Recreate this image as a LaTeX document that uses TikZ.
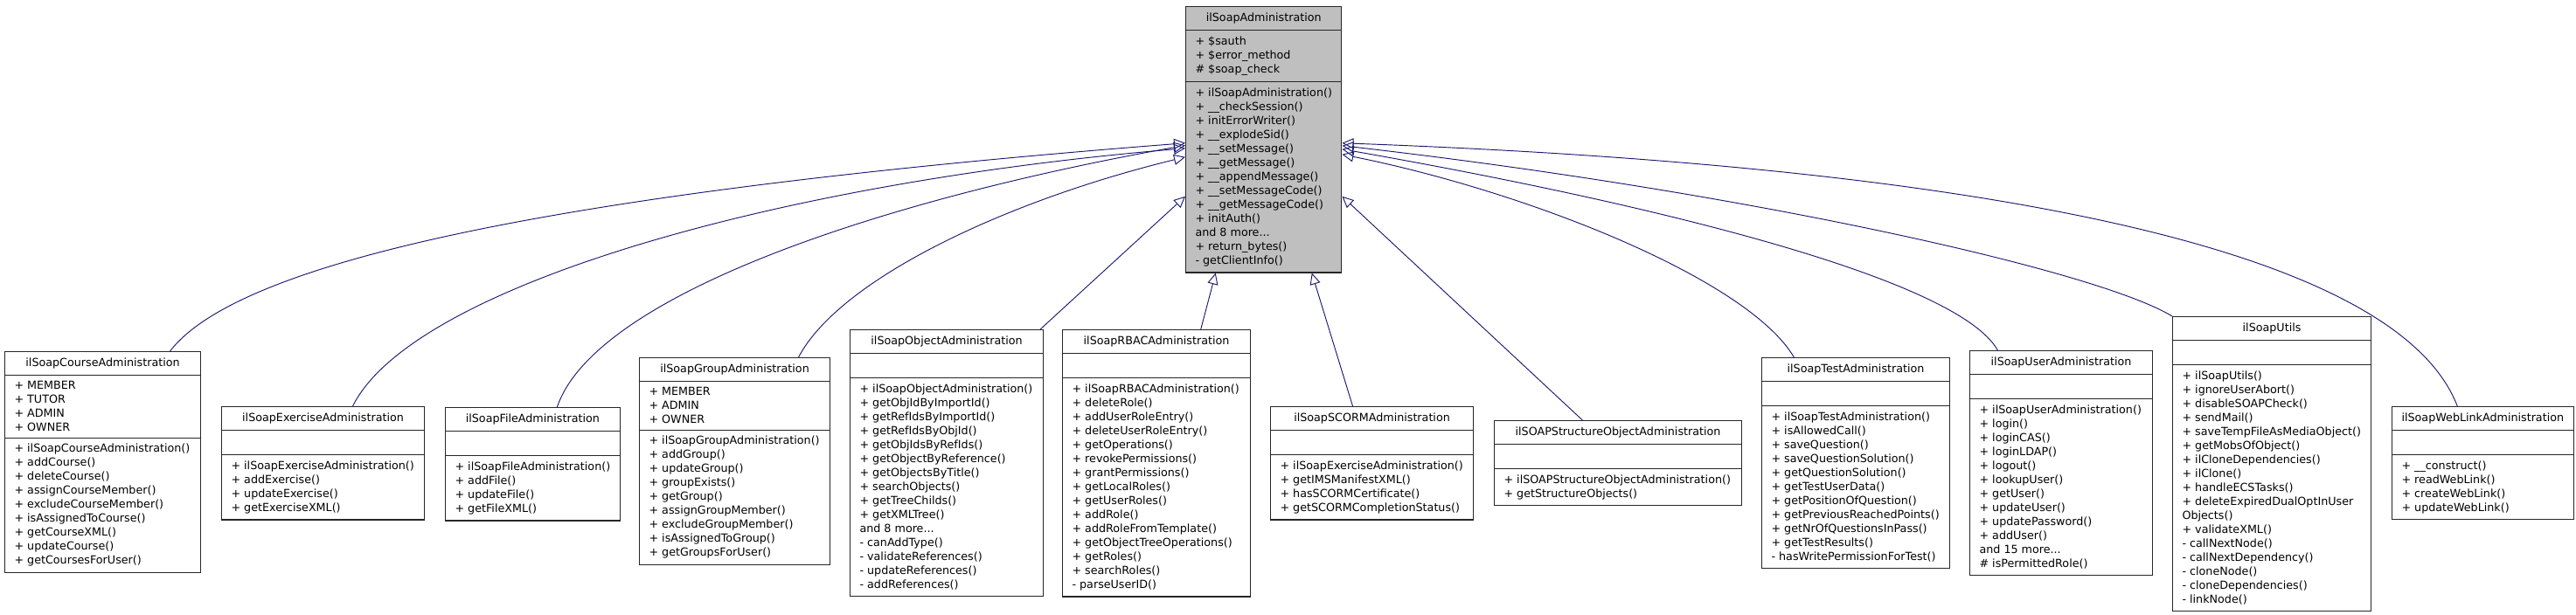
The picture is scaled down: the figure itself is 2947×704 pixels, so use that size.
\documentclass[tikz,border=0pt]{standalone}
\usepackage{fontspec}
\setmainfont{DejaVu Sans}
\usetikzlibrary{shapes.multipart,arrows.meta}
\definecolor{edgeBlue}{HTML}{191970}
\definecolor{baseGray}{HTML}{BFBFBF}

\begin{document}
\begin{tikzpicture}[x=0.03cm,y=-0.03cm,
  classBox/.style={rectangle split, rectangle split parts=3, draw=black!85, line width=0.9pt,
    anchor=north west, align=left, rectangle split part align={center,left,left},
    inner xsep=0.33cm, inner ysep=0.2cm, rectangle split empty part height=0.41cm,
    font=\fontsize{10.85}{13.66}\selectfont, fill=white},
  baseBox/.style={classBox, fill=baseGray},
  inherits/.style={draw=edgeBlue, line width=0.8pt, -{Triangle[open,length=0.39cm,width=0.36cm]}}]

\useasboundingbox (0,0) rectangle (2947,704);

\node[baseBox, minimum width=5.34cm] (soapAdmin) at (1356,7) {ilSoapAdministration
  \nodepart{two} + \$sauth\\ + \$error\_method\\ \# \$soap\_check
  \nodepart{three} + ilSoapAdministration()\\ + \_\_checkSession()\\ + initErrorWriter()\\
    + \_\_explodeSid()\\ + \_\_setMessage()\\ + \_\_getMessage()\\ + \_\_appendMessage()\\
    + \_\_setMessageCode()\\ + \_\_getMessageCode()\\ + initAuth()\\ and 8 more...\\
    + return\_bytes()\\ - getClientInfo()};

\node[classBox, minimum width=6.72cm] (course) at (5,402) {ilSoapCourseAdministration
  \nodepart{two} + MEMBER\\ + TUTOR\\ + ADMIN\\ + OWNER
  \nodepart{three} + ilSoapCourseAdministration()\\ + addCourse()\\ + deleteCourse()\\
    + assignCourseMember()\\ + excludeCourseMember()\\ + isAssignedToCourse()\\
    + getCourseXML()\\ + updateCourse()\\ + getCoursesForUser()};

\node[classBox, minimum width=6.96cm] (exercise) at (253,465) {ilSoapExerciseAdministration
  \nodepart{two}
  \nodepart{three} + ilSoapExerciseAdministration()\\ + addExercise()\\ + updateExercise()\\
    + getExerciseXML()};

\node[classBox, minimum width=5.94cm] (file) at (509,466) {ilSoapFileAdministration
  \nodepart{two}
  \nodepart{three} + ilSoapFileAdministration()\\ + addFile()\\ + updateFile()\\ + getFileXML()};

\node[classBox, minimum width=6.54cm] (group) at (731,409) {ilSoapGroupAdministration
  \nodepart{two} + MEMBER\\ + ADMIN\\ + OWNER
  \nodepart{three} + ilSoapGroupAdministration()\\ + addGroup()\\ + updateGroup()\\
    + groupExists()\\ + getGroup()\\ + assignGroupMember()\\ + excludeGroupMember()\\
    + isAssignedToGroup()\\ + getGroupsForUser()};

\node[classBox, minimum width=6.63cm] (object) at (972,377) {ilSoapObjectAdministration
  \nodepart{two}
  \nodepart{three} + ilSoapObjectAdministration()\\ + getObjIdByImportId()\\
    + getRefIdsByImportId()\\ + getRefIdsByObjId()\\ + getObjIdsByRefIds()\\
    + getObjectByReference()\\ + getObjectsByTitle()\\ + searchObjects()\\
    + getTreeChilds()\\ + getXMLTree()\\ and 8 more...\\ - canAddType()\\
    - validateReferences()\\ - updateReferences()\\ - addReferences()};

\node[classBox, minimum width=6.45cm] (rbac) at (1215,377) {ilSoapRBACAdministration
  \nodepart{two}
  \nodepart{three} + ilSoapRBACAdministration()\\ + deleteRole()\\ + addUserRoleEntry()\\
    + deleteUserRoleEntry()\\ + getOperations()\\ + revokePermissions()\\
    + grantPermissions()\\ + getLocalRoles()\\ + getUserRoles()\\ + addRole()\\
    + addRoleFromTemplate()\\ + getObjectTreeOperations()\\ + getRoles()\\
    + searchRoles()\\ - parseUserID()};

\node[classBox, minimum width=6.96cm] (scorm) at (1453,465) {ilSoapSCORMAdministration
  \nodepart{two}
  \nodepart{three} + ilSoapExerciseAdministration()\\ + getIMSManifestXML()\\
    + hasSCORMCertificate()\\ + getSCORMCompletionStatus()};

\node[classBox, minimum width=8.49cm] (structure) at (1709,481) {ilSOAPStructureObjectAdministration
  \nodepart{two}
  \nodepart{three} + ilSOAPStructureObjectAdministration()\\ + getStructureObjects()};

\node[classBox, minimum width=6.45cm] (test) at (2015,409) {ilSoapTestAdministration
  \nodepart{two}
  \nodepart{three} + ilSoapTestAdministration()\\ + isAllowedCall()\\ + saveQuestion()\\
    + saveQuestionSolution()\\ + getQuestionSolution()\\ + getTestUserData()\\
    + getPositionOfQuestion()\\ + getPreviousReachedPoints()\\
    + getNrOfQuestionsInPass()\\ + getTestResults()\\ - hasWritePermissionForTest()};

\node[classBox, minimum width=6.27cm] (user) at (2253,401) {ilSoapUserAdministration
  \nodepart{two}
  \nodepart{three} + ilSoapUserAdministration()\\ + login()\\ + loginCAS()\\ + loginLDAP()\\
    + logout()\\ + lookupUser()\\ + getUser()\\ + updateUser()\\ + updatePassword()\\
    + addUser()\\ and 15 more...\\ \# isPermittedRole()};

\node[classBox, minimum width=6.81cm] (utils) at (2485,362) {ilSoapUtils
  \nodepart{two}
  \nodepart{three} + ilSoapUtils()\\ + ignoreUserAbort()\\ + disableSOAPCheck()\\
    + sendMail()\\ + saveTempFileAsMediaObject()\\ + getMobsOfObject()\\
    + ilCloneDependencies()\\ + ilClone()\\ + handleECSTasks()\\
    + deleteExpiredDualOptInUser\\ Objects()\\ + validateXML()\\ - callNextNode()\\
    - callNextDependency()\\ - cloneNode()\\ - cloneDependencies()\\ - linkNode()};

\node[classBox, minimum width=6.18cm] (weblink) at (2736,465) {ilSoapWebLinkAdministration
  \nodepart{two}
  \nodepart{three} + \_\_construct()\\ + readWebLink()\\ + createWebLink()\\ + updateWebLink()};

\draw[inherits] ([xshift=2.31cm]course.north) .. controls (280,290) and (700,215) .. ([yshift=-0.12cm]soapAdmin.west);
\draw[inherits] ([xshift=1.02cm]exercise.north) .. controls (470,330) and (880,210) .. ([yshift=-0.3cm]soapAdmin.west);
\draw[inherits] ([xshift=0.84cm]file.north) .. controls (680,340) and (1000,230) .. ([yshift=-0.2cm]soapAdmin.west);
\draw[inherits] ([xshift=2.19cm]group.north) .. controls (960,320) and (1150,230) .. ([yshift=-0.6cm]soapAdmin.west);
\draw[inherits] ([xshift=-0.12cm]object.north east) -- ([yshift=-1.95cm]soapAdmin.west);
\draw[inherits] ([xshift=1.52cm]rbac.north) -- ([xshift=-1.65cm]soapAdmin.south);
\draw[inherits] ([xshift=-0.66cm]scorm.north) -- ([xshift=1.65cm]soapAdmin.south);
\draw[inherits] ([xshift=-1.22cm]structure.north) -- ([yshift=-1.95cm]soapAdmin.east);
\draw[inherits] ([xshift=-2.12cm]test.north) .. controls (2000,320) and (1750,220) .. ([yshift=-0.51cm]soapAdmin.east);
\draw[inherits] ([xshift=-2.18cm]user.north) .. controls (2240,320) and (1900,235) .. ([yshift=-0.33cm]soapAdmin.east);
\draw[inherits] (utils.north west) .. controls (2400,310) and (2000,220) .. ([yshift=-0.21cm]soapAdmin.east);
\draw[inherits] ([xshift=-0.87cm]weblink.north) .. controls (2740,280) and (2250,190) .. ([yshift=-0.12cm]soapAdmin.east);

\end{tikzpicture}
\end{document}
